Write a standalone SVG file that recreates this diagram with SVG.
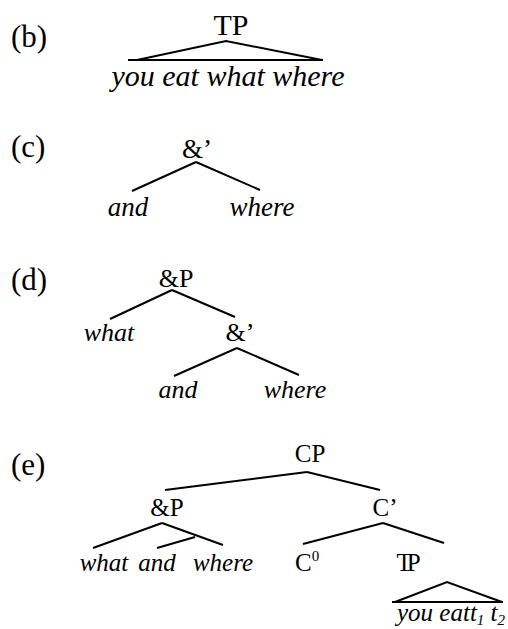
<svg xmlns="http://www.w3.org/2000/svg" width="508" height="629" viewBox="0 0 508 629">
<style>
text { font-family: "Liberation Serif", "Times New Roman", serif; fill: #000; }
.lbl { font-size: 31px; }
.n { text-anchor: middle; }
.it { font-style: italic; }
.b { font-size: 30px; }
.c { font-size: 27px; }
.d { font-size: 26px; }
.e { font-size: 25px; }
.sub { font-size: 15px; }
#edges line, #edges polyline { stroke: #000; stroke-width: 2; fill: none; stroke-linecap: butt; }
</style>
<rect width="508" height="629" fill="#fff"/>

<g id="labels">
  <text class="lbl" x="11" y="47">(b)</text>
  <text class="lbl" x="11" y="157">(c)</text>
  <text class="lbl" x="11" y="290">(d)</text>
  <text class="lbl" x="11" y="475">(e)</text>
</g>

<g id="edges">
  <!-- (b) -->
  <polyline points="137,60 226,41 322,60"/>
  <line x1="128" y1="60" x2="323" y2="60"/>
  <!-- (c) -->
  <line x1="196" y1="162" x2="132" y2="191"/>
  <line x1="196" y1="162" x2="260" y2="190"/>
  <!-- (d) -->
  <line x1="172" y1="290" x2="110" y2="319"/>
  <line x1="172" y1="290" x2="235" y2="317"/>
  <line x1="237" y1="348" x2="174" y2="376"/>
  <line x1="237" y1="348" x2="299" y2="375"/>
  <!-- (e) -->
  <line x1="307" y1="472" x2="165" y2="490"/>
  <line x1="307" y1="472" x2="380" y2="490"/>
  <line x1="162" y1="523" x2="93" y2="548"/>
  <line x1="162" y1="523" x2="223" y2="545"/>
  <line x1="157" y1="548" x2="195" y2="537"/>
  <line x1="383" y1="523" x2="303" y2="544"/>
  <line x1="383" y1="523" x2="444" y2="543"/>
  <polyline points="395,602 447,582 502,602"/>
  <line x1="392" y1="602" x2="503" y2="602"/>
</g>

<g id="b-TP"><text class="b n" x="231" y="35">TP</text></g>
<g id="b-yield"><text class="b n it" x="228" y="86">you eat what where</text></g>

<g id="c-bar"><text class="c n" x="197" y="158">&amp;’</text></g>
<g id="c-and"><text class="c n it" x="128" y="216">and</text></g>
<g id="c-where"><text class="c n it" x="262" y="216">where</text></g>

<g id="d-andP"><text class="d n" x="176" y="287">&amp;P</text></g>
<g id="d-what"><text class="d n it" x="109" y="341">what</text></g>
<g id="d-bar"><text class="d n" x="240" y="341">&amp;’</text></g>
<g id="d-and"><text class="d n it" x="178" y="398">and</text></g>
<g id="d-where"><text class="d n it" x="295" y="398">where</text></g>

<g id="e-CP"><text class="e n" x="310" y="462">CP</text></g>
<g id="e-andP"><text class="e n" x="167" y="516">&amp;P</text></g>
<g id="e-Cbar"><text class="e n" x="385" y="516">C’</text></g>
<g id="e-what"><text class="e n it" x="104" y="571">what</text></g>
<g id="e-and"><text class="e n it" x="157" y="571">and</text></g>
<g id="e-where"><text class="e n it" x="223" y="571">where</text></g>
<g id="e-C0"><text class="e" x="295" y="571">C<tspan class="sub" dy="-10">0</tspan></text></g>
<g id="e-TP"><text class="e n" x="406" y="571" letter-spacing="-5">TP</text></g>
<g id="e-yield"><text class="e it" x="397" y="621">you eatt<tspan class="sub" dy="4">1</tspan><tspan dy="-4"> t</tspan><tspan class="sub" dy="4">2</tspan></text></g>
</svg>
